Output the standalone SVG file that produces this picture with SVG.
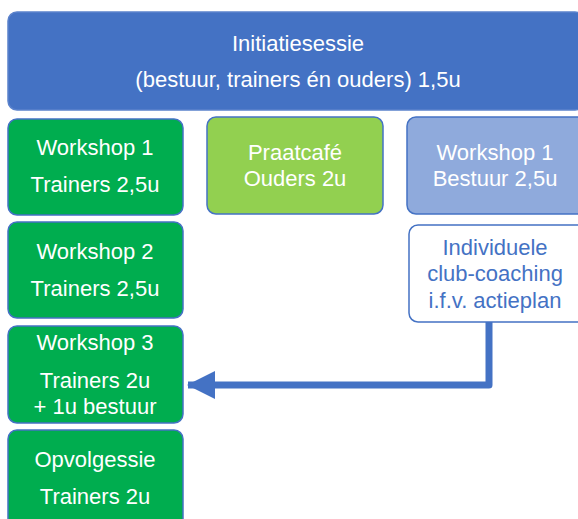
<svg xmlns="http://www.w3.org/2000/svg" width="578" height="519" viewBox="0 0 578 519">
<defs>
<style>
text{font-family:"Liberation Sans",Arial,sans-serif;font-size:22px;text-anchor:middle;dominant-baseline:central}
.w{fill:#ffffff}
.b{fill:#4472C4}
.green rect{fill:#00AD4F;stroke:#4472C4;stroke-width:1.5}
</style>
<marker id="ah" markerUnits="userSpaceOnUse" markerWidth="28" markerHeight="28" viewBox="0 0 28 28" refX="27" refY="14" orient="auto">
<path d="M0,0 L28,14 L0,28 Z" fill="#4472C4"/>
</marker>
</defs>
<rect width="578" height="519" fill="#ffffff"/>
<g id="initiatiesessie">
<rect x="8" y="12" width="576" height="98" rx="9" fill="#4472C4" stroke="#5B82CC" stroke-width="1.5"/>
<text class="w" x="298" y="43">Initiatiesessie</text>
<text class="w" x="298" y="79">(bestuur, trainers én ouders) 1,5u</text>
</g>
<g id="workshop1" class="green">
<rect x="8" y="119" width="175" height="96" rx="9"/>
<text class="w" x="95" y="147">Workshop 1</text>
<text class="w" x="95" y="184">Trainers 2,5u</text>
</g>
<g id="workshop2" class="green">
<rect x="8" y="222" width="175" height="96" rx="9"/>
<text class="w" x="95" y="251">Workshop 2</text>
<text class="w" x="95" y="288">Trainers 2,5u</text>
</g>
<g id="workshop3" class="green">
<rect x="8" y="326" width="175" height="97" rx="9"/>
<text class="w" x="95" y="342">Workshop 3</text>
<text class="w" x="95" y="380">Trainers 2u</text>
<text class="w" x="95" y="406">+ 1u bestuur</text>
</g>
<g id="opvolgessie" class="green">
<rect x="8" y="430" width="175" height="100" rx="9"/>
<text class="w" x="95" y="459">Opvolgessie</text>
<text class="w" x="95" y="496">Trainers 2u</text>
</g>
<g id="praatcafe">
<rect x="207" y="117" width="176" height="97" rx="9" fill="#92D050" stroke="#4472C4" stroke-width="1.5"/>
<text class="w" x="295" y="152">Praatcafé</text>
<text class="w" x="295" y="178">Ouders 2u</text>
</g>
<g id="workshop1-bestuur">
<rect x="407" y="117" width="180" height="97" rx="9" fill="#8FAADC" stroke="#4472C4" stroke-width="1.5"/>
<text class="w" x="495" y="152">Workshop 1</text>
<text class="w" x="495" y="178">Bestuur 2,5u</text>
</g>
<g id="coaching">
<rect x="409" y="225" width="180" height="97" rx="9" fill="#ffffff" stroke="#4472C4" stroke-width="1.5"/>
<text class="b" x="495" y="247">Individuele</text>
<text class="b" x="495" y="273">club-coaching</text>
<text class="b" x="495" y="300">i.f.v. actieplan</text>
</g>
<g id="connectors">
<path d="M489,322 V385 H188" fill="none" stroke="#4472C4" stroke-width="7" stroke-linejoin="round" marker-end="url(#ah)"/>
</g>
</svg>
